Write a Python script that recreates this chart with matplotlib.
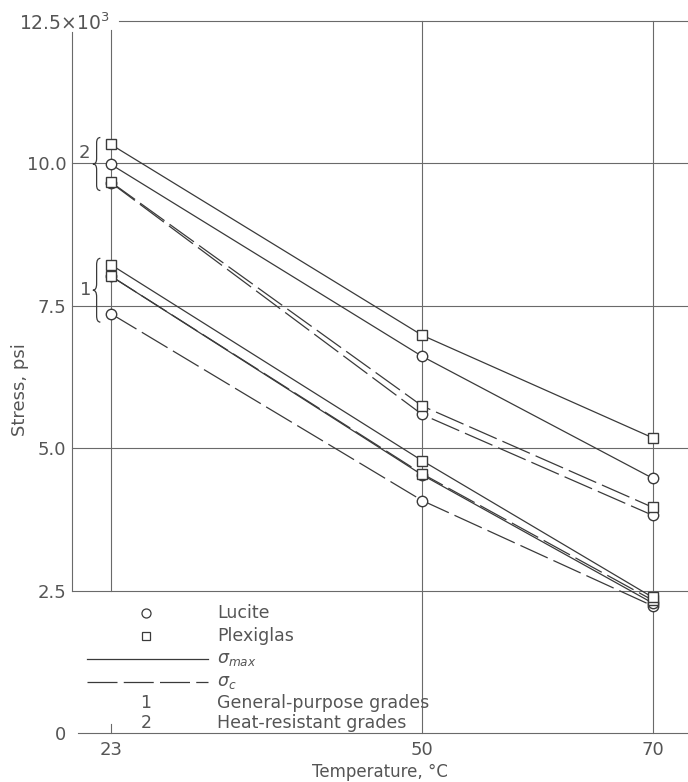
import numpy as np
import matplotlib
matplotlib.use("Agg")
import matplotlib.pyplot as plt
from matplotlib.path import Path
from matplotlib.patches import PathPatch

# Temperatures, deg C
temps = [23, 50, 70]

# Stress, thousands of psi -- heat-resistant grades (2)
plex_max_2 = [10.33, 6.98, 5.18]
luc_max_2 = [9.98, 6.61, 4.47]
plex_c_2 = [9.67, 5.74, 3.96]
luc_c_2 = [9.66, 5.59, 3.82]

# Stress, thousands of psi -- general-purpose grades (1)
plex_max_1 = [8.22, 4.78, 2.38]
plex_c_1 = [8.02, 4.55, 2.33]
luc_max_1 = [8.02, 4.53, 2.28]
luc_c_1 = [7.36, 4.08, 2.23]

ytick_vals = [0, 2.5, 5.0, 7.5, 10.0]
ytick_labels = ["0", "2.5", "5.0", "7.5", "10.0"]

INK = "#3a3a3a"
TXT = "#555555"
DASH = (24, 5)
LW = 0.9

fig = plt.figure(figsize=(6.88, 7.82), dpi=100)
ax = fig.add_axes([72 / 688, 49 / 782, 616 / 688, 712.3 / 782])
xmin, xmax = 19.64, 73.06
ax.set_xlim(xmin, xmax)
ax.set_ylim(0, 12.5)
for s in ax.spines.values():
    s.set_visible(False)

# grid, drawn by hand so each line can stop where the chart needs it
gkw = dict(color="#6a6a6a", lw=0.8, zorder=1, clip_on=False)
ax.plot([23.72, xmax], [12.5, 12.5], **gkw)
for yv in [10.0, 7.5, 5.0, 2.5]:
    ax.plot([xmin, xmax], [yv, yv], **gkw)
ax.plot([20.2, xmax], [0, 0], **gkw)
ax.plot([xmin, xmin], [12.3, 2.5], **gkw)
ax.plot([23, 23], [12.33, 2.5], **gkw)
ax.plot([23, 23], [0, 0.15], **gkw)
for xv in [50, 70]:
    ax.plot([xv, xv], [0, 12.5], **gkw)

# data curves (circles first so the squares sit on top where they coincide)
mkw = dict(color=INK, lw=LW, markersize=7.5, markerfacecolor="white",
           markeredgecolor=INK, markeredgewidth=1.0, zorder=3)
series = [
    (luc_max_2, "o", "-"), (luc_c_2, "o", "--"),
    (plex_max_2, "s", "-"), (plex_c_2, "s", "--"),
    (luc_c_1, "o", "--"), (luc_max_1, "o", "-"),
    (plex_c_1, "s", "--"), (plex_max_1, "s", "-"),
]
for vals, mk, ls in series:
    line, = ax.plot(temps, vals, marker=mk, linestyle=ls, **mkw)
    if ls == "--":
        line.set_dashes(DASH)


def brace(ax, x0, x1, y0, y1):
    # left-pointing curly brace between y0 (bottom) and y1 (top)
    ym = (y0 + y1) / 2
    xm = (x0 + x1) / 2
    h = y1 - y0
    verts = [
        (x1, y1), (xm, y1), (xm, y1 - 0.1 * h), (xm, ym + 0.1 * h),
        (xm, ym), (x0, ym),
        (xm, ym), (xm, ym - 0.1 * h), (xm, y0 + 0.1 * h),
        (xm, y0), (x1, y0),
    ]
    codes = [Path.MOVETO, Path.CURVE3, Path.CURVE3, Path.LINETO,
             Path.CURVE3, Path.CURVE3,
             Path.CURVE3, Path.CURVE3, Path.LINETO,
             Path.CURVE3, Path.CURVE3]
    ax.add_patch(PathPatch(Path(verts, codes), fill=False, ec=INK, lw=0.9,
                           clip_on=False, zorder=3))


brace(ax, 21.45, 22.1, 9.52, 10.45)
brace(ax, 21.45, 22.1, 7.21, 8.33)
ax.text(20.75, 10.17, "2", fontsize=13, color=TXT, ha="center", va="center")
ax.text(20.85, 7.77, "1", fontsize=13, color=TXT, ha="center", va="center")

# key in the lower left corner
fs = 12.5
kx_mark, kx0, kx1, kx_txt = 26.06, 20.94, 31.44, 32.22
rows = [2.105, 1.70, 1.30, 0.895, 0.53, 0.175]
ax.plot([kx_mark], [rows[0]], marker="o", ls="none", markersize=6.5,
        mfc="white", mec=INK, mew=0.9, zorder=3)
ax.plot([kx_mark], [rows[1]], marker="s", ls="none", markersize=6,
        mfc="white", mec=INK, mew=0.9, zorder=3)
ax.plot([kx0, kx1], [rows[2], rows[2]], color=INK, lw=LW)
kl, = ax.plot([kx0, kx1], [rows[3], rows[3]], color=INK, lw=LW)
kl.set_dashes(DASH)
ax.text(kx_mark, rows[4], "1", fontsize=fs, color=TXT, ha="center", va="center")
ax.text(kx_mark, rows[5], "2", fontsize=fs, color=TXT, ha="center", va="center")
labels = ["Lucite", "Plexiglas", r"$\sigma_{max}$", r"$\sigma_c$",
          "General-purpose grades", "Heat-resistant grades"]
for yv, lab in zip(rows, labels):
    ax.text(kx_txt, yv, lab, fontsize=fs, color=TXT, ha="left", va="center")

# axis ticks and labels
ax.set_yticks(ytick_vals)
ax.set_yticklabels(ytick_labels)
ax.set_xticks(temps)
ax.set_xticklabels([str(t) for t in temps])
ax.tick_params(axis="both", length=0, labelsize=13, labelcolor=TXT)
ax.tick_params(axis="y", pad=4)
ax.tick_params(axis="x", pad=6)
ax.text(22.9, 12.46, r"12.5×10$^{3}$", fontsize=13.5, color=TXT,
        ha="right", va="center")

fig.text(380 / 688, 1 - 772 / 782, "Temperature, °C", fontsize=12, color=TXT,
         ha="center", va="center")
fig.text(20 / 688, 1 - 390 / 782, "Stress, psi", fontsize=13, color=TXT,
         ha="center", va="center", rotation=90)

fig.savefig("out.png", dpi=100)
